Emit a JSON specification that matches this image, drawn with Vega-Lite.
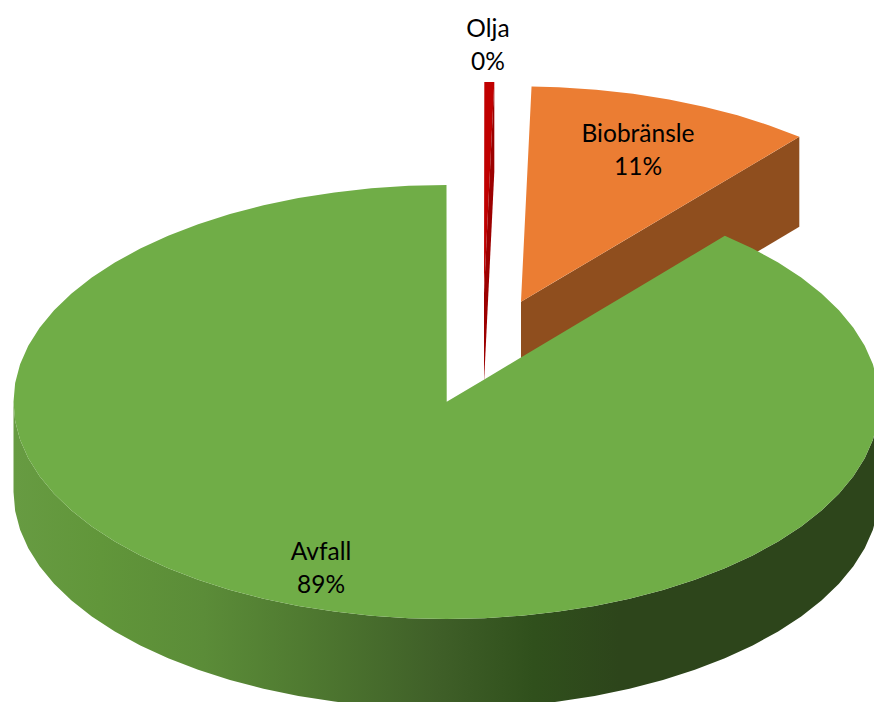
{
  "$schema": "https://vega.github.io/schema/vega-lite/v6.json",
  "width": 874,
  "height": 702,
  "padding": 0,
  "autosize": {"type": "none"},
  "background": "white",
  "view": {"stroke": null},
  "datasets": {
    "avfallRim": [
      {"across": -1, "upper": 0, "lower": 0, "base": -0.4147},
      {"across": -0.9962, "upper": 0.0872, "lower": -0.0872, "base": -0.5019},
      {"across": -0.9848, "upper": 0.1736, "lower": -0.1736, "base": -0.5883},
      {"across": -0.9659, "upper": 0.2588, "lower": -0.2588, "base": -0.6735},
      {"across": -0.9397, "upper": 0.342, "lower": -0.342, "base": -0.7567},
      {"across": -0.9063, "upper": 0.4226, "lower": -0.4226, "base": -0.8373},
      {"across": -0.866, "upper": 0.5, "lower": -0.5, "base": -0.9147},
      {"across": -0.8192, "upper": 0.5736, "lower": -0.5736, "base": -0.9883},
      {"across": -0.766, "upper": 0.6428, "lower": -0.6428, "base": -1.0575},
      {"across": -0.7071, "upper": 0.7071, "lower": -0.7071, "base": -1.1218},
      {"across": -0.6428, "upper": 0.766, "lower": -0.766, "base": -1.1807},
      {"across": -0.5736, "upper": 0.8192, "lower": -0.8192, "base": -1.2339},
      {"across": -0.5, "upper": 0.866, "lower": -0.866, "base": -1.2807},
      {"across": -0.4226, "upper": 0.9063, "lower": -0.9063, "base": -1.321},
      {"across": -0.342, "upper": 0.9397, "lower": -0.9397, "base": -1.3544},
      {"across": -0.2588, "upper": 0.9659, "lower": -0.9659, "base": -1.3806},
      {"across": -0.1736, "upper": 0.9848, "lower": -0.9848, "base": -1.3995},
      {"across": -0.0872, "upper": 0.9962, "lower": -0.9962, "base": -1.4109},
      {"across": 0, "upper": 1, "lower": -1, "base": -1.4147},
      {"across": 0.0005, "upper": 0.0006, "lower": -1, "base": -1.4147},
      {"across": 0.0872, "upper": 0.1039, "lower": -0.9962, "base": -1.4109},
      {"across": 0.1736, "upper": 0.2069, "lower": -0.9848, "base": -1.3995},
      {"across": 0.2588, "upper": 0.3084, "lower": -0.9659, "base": -1.3806},
      {"across": 0.342, "upper": 0.4076, "lower": -0.9397, "base": -1.3544},
      {"across": 0.4226, "upper": 0.5037, "lower": -0.9063, "base": -1.321},
      {"across": 0.5, "upper": 0.5959, "lower": -0.866, "base": -1.2807},
      {"across": 0.5736, "upper": 0.6836, "lower": -0.8192, "base": -1.2339},
      {"across": 0.6428, "upper": 0.766, "lower": -0.766, "base": -1.1807},
      {"across": 0.7071, "upper": 0.7071, "lower": -0.7071, "base": -1.1218},
      {"across": 0.766, "upper": 0.6428, "lower": -0.6428, "base": -1.0575},
      {"across": 0.8192, "upper": 0.5736, "lower": -0.5736, "base": -0.9883},
      {"across": 0.866, "upper": 0.5, "lower": -0.5, "base": -0.9147},
      {"across": 0.9063, "upper": 0.4226, "lower": -0.4226, "base": -0.8373},
      {"across": 0.9397, "upper": 0.342, "lower": -0.342, "base": -0.7567},
      {"across": 0.9659, "upper": 0.2588, "lower": -0.2588, "base": -0.6735},
      {"across": 0.9848, "upper": 0.1736, "lower": -0.1736, "base": -0.5883},
      {"across": 0.9962, "upper": 0.0872, "lower": -0.0872, "base": -0.5019},
      {"across": 1, "upper": 0, "lower": 0, "base": -0.4147}
    ],
    "biobransleTop": [
      {"across": 0.172, "upper": 0.462, "lower": 0.462},
      {"across": 0.1964, "upper": 1.4537, "lower": 0.4908},
      {"across": 0.2592, "upper": 1.4502, "lower": 0.5651},
      {"across": 0.3456, "upper": 1.4389, "lower": 0.6673},
      {"across": 0.4308, "upper": 1.4202, "lower": 0.768},
      {"across": 0.514, "upper": 1.3942, "lower": 0.8664},
      {"across": 0.5946, "upper": 1.361, "lower": 0.9617},
      {"across": 0.672, "upper": 1.3211, "lower": 1.0532},
      {"across": 0.7456, "upper": 1.2746, "lower": 1.1402},
      {"across": 0.8148, "upper": 1.2219, "lower": 1.2219}
    ],
    "biobransleWall": [
      {"across": 0.172, "upper": 0.462, "lower": 0.0473},
      {"across": 0.8148, "upper": 1.2219, "lower": 0.8072}
    ],
    "oljaTop": [
      {"across": 0.0866, "upper": 0.5023, "lower": 0.5023},
      {"across": 0.0873, "upper": 1.4747, "lower": 0.531},
      {"across": 0.1104, "upper": 1.4747, "lower": 1.4747}
    ],
    "oljaWall": [
      {"across": 0.0866, "upper": 0.5023, "lower": 0.0876},
      {"across": 0.1104, "upper": 1.4747, "lower": 1.06}
    ],
    "labels": [
      {"name": "Avfall", "share": 0.887, "across": -0.2898, "up": -0.7627},
      {"name": "Biobränsle", "share": 0.11, "across": 0.4423, "up": 1.159},
      {"name": "Olja", "share": 0.003, "across": 0.0958, "up": 1.643}
    ]
  },
  "encoding": {
    "x": {
      "field": "across",
      "type": "quantitative",
      "axis": null,
      "scale": {"domain": [-1.03118, 0.9873], "nice": false, "zero": false}
    }
  },
  "layer": [
    {
      "data": {"name": "biobransleWall"},
      "mark": {"type": "area", "color": "#8F4E1E", "clip": true},
      "encoding": {
        "y": {"field": "upper", "type": "quantitative", "axis": null, "scale": {"domain": [-1.38249, 1.85253], "nice": false, "zero": false}},
        "y2": {"field": "lower"}
      }
    },
    {
      "data": {"name": "biobransleTop"},
      "mark": {"type": "area", "color": "#EB7D33", "clip": true},
      "encoding": {
        "y": {"field": "upper", "type": "quantitative", "axis": null, "scale": {"domain": [-1.38249, 1.85253], "nice": false, "zero": false}},
        "y2": {"field": "lower"}
      }
    },
    {
      "data": {"name": "oljaTop"},
      "mark": {"type": "area", "color": "#C00000", "clip": true},
      "encoding": {
        "y": {"field": "upper", "type": "quantitative", "axis": null, "scale": {"domain": [-1.38249, 1.85253], "nice": false, "zero": false}},
        "y2": {"field": "lower"}
      }
    },
    {
      "data": {"name": "oljaWall"},
      "mark": {"type": "area", "color": "#9C0000", "clip": true},
      "encoding": {
        "y": {"field": "upper", "type": "quantitative", "axis": null, "scale": {"domain": [-1.38249, 1.85253], "nice": false, "zero": false}},
        "y2": {"field": "lower"}
      }
    },
    {
      "data": {"name": "avfallRim"},
      "mark": {
        "type": "area",
        "clip": true,
        "color": {
          "gradient": "linear",
          "x1": 0, "y1": 0, "x2": 1, "y2": 0,
          "stops": [
            {"offset": 0, "color": "#679B42"},
            {"offset": 0.1, "color": "#61963A"},
            {"offset": 0.22, "color": "#5B8C38"},
            {"offset": 0.33, "color": "#507B31"},
            {"offset": 0.49, "color": "#3F5F28"},
            {"offset": 0.6, "color": "#30501C"},
            {"offset": 0.7, "color": "#2D451B"},
            {"offset": 1, "color": "#2D451B"}
          ]
        }
      },
      "encoding": {
        "y": {"field": "lower", "type": "quantitative", "axis": null, "scale": {"domain": [-1.38249, 1.85253], "nice": false, "zero": false}},
        "y2": {"field": "base"}
      }
    },
    {
      "data": {"name": "avfallRim"},
      "mark": {"type": "area", "color": "#70AD47", "clip": true},
      "encoding": {
        "y": {"field": "upper", "type": "quantitative", "axis": null, "scale": {"domain": [-1.38249, 1.85253], "nice": false, "zero": false}},
        "y2": {"field": "lower"}
      }
    },
    {
      "data": {"name": "labels"},
      "mark": {"type": "text", "font": "Lato", "fontSize": 24.5, "color": "#000000", "align": "center", "baseline": "middle", "dy": -15},
      "encoding": {
        "y": {"field": "up", "type": "quantitative", "axis": null, "scale": {"domain": [-1.38249, 1.85253], "nice": false, "zero": false}},
        "text": {"field": "name", "type": "nominal"}
      }
    },
    {
      "data": {"name": "labels"},
      "mark": {"type": "text", "font": "Lato", "fontSize": 24.5, "color": "#000000", "align": "center", "baseline": "middle", "dy": 18},
      "encoding": {
        "y": {"field": "up", "type": "quantitative", "axis": null, "scale": {"domain": [-1.38249, 1.85253], "nice": false, "zero": false}},
        "text": {"field": "share", "type": "quantitative", "format": ".0%"}
      }
    }
  ]
}
